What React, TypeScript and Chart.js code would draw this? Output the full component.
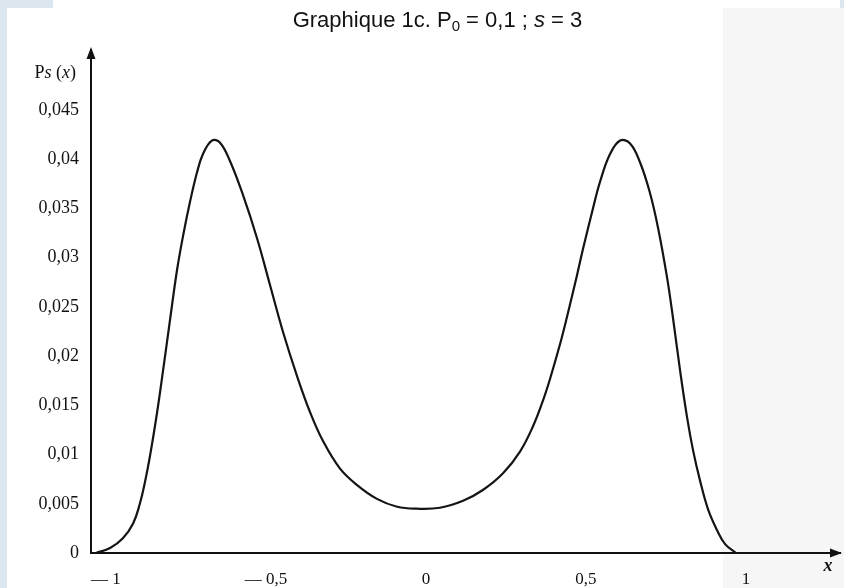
import { useEffect, useRef } from "react";
import { Chart, registerables } from "chart.js";

Chart.register(...registerables);

// Curve Ps(x)
const xValues = [
  -1.0, -0.956, -0.916, -0.884, -0.863, -0.847, -0.831, -0.809, -0.791, -0.769,
  -0.747, -0.728, -0.706, -0.684, -0.666, -0.638, -0.613, -0.581, -0.541, -0.497,
  -0.456, -0.416, -0.372, -0.331, -0.291, -0.238, -0.184, -0.122, -0.059, 0.003,
  0.075, 0.147, 0.209, 0.272, 0.325, 0.366, 0.397, 0.419, 0.45, 0.472,
  0.503, 0.522, 0.553, 0.575, 0.606, 0.638, 0.669, 0.7, 0.731, 0.756,
  0.784, 0.803, 0.825, 0.847, 0.866, 0.888, 0.913, 0.941, 0.966, 1.0,
];
const psValues = [
  0, 0.0005, 0.0015, 0.003, 0.005, 0.0072, 0.0099, 0.0143, 0.0184, 0.0236,
  0.0287, 0.0322, 0.0357, 0.0387, 0.0405, 0.0419, 0.0417, 0.0398, 0.0364, 0.032,
  0.0272, 0.0225, 0.018, 0.0143, 0.0114, 0.0086, 0.0069, 0.0055, 0.0047, 0.0045,
  0.0046, 0.0053, 0.0064, 0.0081, 0.0103, 0.0129, 0.0155, 0.0177, 0.0212, 0.024,
  0.0282, 0.0309, 0.035, 0.0377, 0.0405, 0.0419, 0.0416, 0.0397, 0.0366, 0.0331,
  0.0281, 0.0239, 0.0186, 0.0138, 0.0104, 0.0073, 0.0044, 0.0023, 0.0009, 0,
];

const xTickValues = [-1, -0.5, 0, 0.5, 1];
const xTickLabels = ["— 1", "— 0,5", "0", "0,5", "1"];
const yTickValues = [0, 0.005, 0.01, 0.015, 0.02, 0.025, 0.03, 0.035, 0.04, 0.045];
const yTickLabels = ["0", "0,005", "0,01", "0,015", "0,02", "0,025", "0,03", "0,035", "0,04", "0,045"];

const xAxisName = "x";
const yAxisParts: [string, boolean][] = [["P", false], ["s", true], [" (", false], ["x", true], [")", false]];

const SERIF = '"Liberation Serif", "DejaVu Serif", serif';

export default function App() {
  const ref = useRef<HTMLCanvasElement>(null);

  useEffect(() => {
    if (!ref.current) return;

    const decor = {
      id: "axisDecor",
      afterDraw(chart: any) {
        const { ctx, chartArea } = chart;
        const ax = chartArea.left;
        const by = chartArea.bottom;
        ctx.save();
        ctx.fillStyle = "#111";
        // y arrow
        ctx.beginPath();
        ctx.moveTo(ax, chartArea.top - 3);
        ctx.lineTo(ax - 4.5, chartArea.top + 9);
        ctx.lineTo(ax + 4.5, chartArea.top + 9);
        ctx.closePath();
        ctx.fill();
        // x arrow
        ctx.beginPath();
        ctx.moveTo(chartArea.right + 2, by);
        ctx.lineTo(chartArea.right - 10, by - 4.5);
        ctx.lineTo(chartArea.right - 10, by + 4.5);
        ctx.closePath();
        ctx.fill();

        // y axis name "Ps (x)"
        ctx.textBaseline = "middle";
        ctx.textAlign = "left";
        const fontFor = (it: boolean) => `${it ? "italic " : ""}18px ${SERIF}`;
        let total = 0;
        for (const [t, it] of yAxisParts) {
          ctx.font = fontFor(it);
          total += ctx.measureText(t).width;
        }
        let cx = 76 - total;
        for (const [t, it] of yAxisParts) {
          ctx.font = fontFor(it);
          ctx.fillText(t, cx, 73);
          cx += ctx.measureText(t).width;
        }
        // x axis name
        ctx.font = `italic bold 18px ${SERIF}`;
        ctx.textAlign = "center";
        ctx.fillText(xAxisName, chartArea.right - 12, by + 13);
        ctx.restore();
      },
    };

    const chart = new Chart(ref.current, {
      type: "line",
      data: {
        datasets: [
          {
            data: xValues.map((x, i) => ({ x, y: psValues[i] })),
            borderColor: "#141414",
            borderWidth: 2.2,
            pointRadius: 0,
            tension: 0.4,
            fill: false,
          },
        ],
      },
      options: {
        animation: false,
        responsive: false,
        layout: { padding: { top: 50, right: 4, left: 0, bottom: 0 } },
        plugins: {
          legend: { display: false },
          title: { display: false },
          tooltip: { enabled: false },
        },
        scales: {
          x: {
            type: "linear",
            min: -1.0156,
            max: 1.325,
            grid: { display: false, drawTicks: false },
            border: { display: true, color: "#111", width: 2 },
            afterBuildTicks: (s: any) => {
              s.ticks = xTickValues.map((v) => ({ value: v }));
            },
            afterFit: (s: any) => {
              s.height = 35;
              s.paddingLeft = 0;
              s.paddingRight = 0;
            },
            ticks: {
              autoSkip: false,
              maxRotation: 0,
              padding: 16,
              labelOffset: 10,
              color: "#111",
              font: { family: SERIF, size: 17 },
              callback: (v: any) => {
                const i = xTickValues.indexOf(Number(v));
                return i >= 0 ? xTickLabels[i] : "";
              },
            },
          },
          y: {
            type: "linear",
            min: 0,
            max: 0.0511,
            grid: { display: false, drawTicks: false },
            border: { display: true, color: "#111", width: 2 },
            afterBuildTicks: (s: any) => {
              s.ticks = yTickValues.map((v) => ({ value: v }));
            },
            afterFit: (s: any) => {
              s.width = 91;
            },
            ticks: {
              autoSkip: false,
              padding: 12,
              color: "#111",
              font: { family: SERIF, size: 18 },
              callback: (v: any) => {
                const i = yTickValues.findIndex((t) => Math.abs(t - Number(v)) < 1e-9);
                return i >= 0 ? yTickLabels[i] : "";
              },
            },
          },
        },
      },
      plugins: [decor],
    } as any);

    return () => chart.destroy();
  }, []);

  return (
    <div
      style={{
        position: "fixed",
        left: 0,
        top: 0,
        width: 844,
        height: 588,
        overflow: "hidden",
        background: "#dce6ee",
      }}
    >
      <div style={{ position: "absolute", left: 7, top: 8, width: 833, height: 580, background: "#ffffff" }} />
      <div style={{ position: "absolute", left: 53, top: 0, width: 787, height: 8, background: "#ffffff" }} />
      <div style={{ position: "absolute", left: 723, top: 8, width: 121, height: 580, background: "#f6f6f6" }} />
      <canvas
        ref={ref}
        width={844}
        height={588}
        style={{ position: "absolute", left: 0, top: 0, width: 844, height: 588, display: "block" }}
      />
      <div
        style={{
          position: "absolute",
          left: 0,
          width: 875,
          top: 7,
          textAlign: "center",
          fontFamily: '"Liberation Sans", Arial, sans-serif',
          fontSize: 22,
          lineHeight: "26px",
          color: "#111",
          whiteSpace: "nowrap",
        }}
      >
        Graphique 1c. P<sub style={{ fontSize: 15, verticalAlign: -4, lineHeight: 0 }}>0</sub> = 0,1 ; <i>s</i> = 3
      </div>
    </div>
  );
}
